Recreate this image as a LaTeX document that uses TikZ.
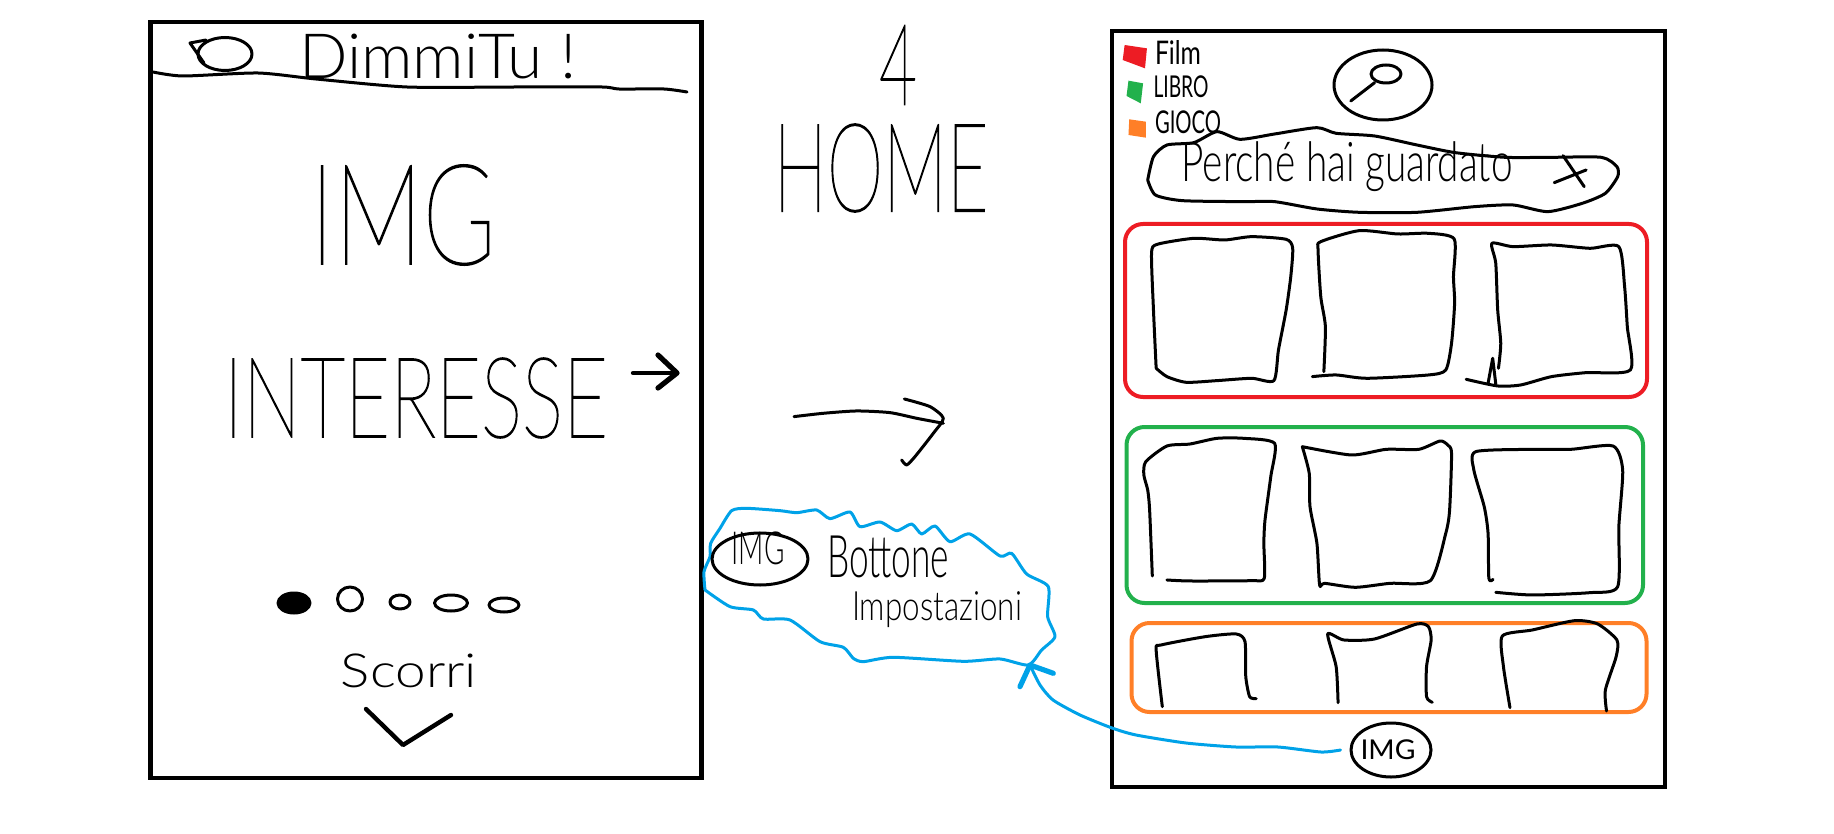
\documentclass[tikz,border=0pt]{standalone}
\usepackage{fontspec}
\setmainfont{Lato}
\newfontfamily\thinfont{Lato Hairline}[FakeBold=1.4]
\newfontfamily\midfont{Lato Light}
\usetikzlibrary{positioning,shapes.geometric}
\definecolor{mred}{HTML}{ED1C24}
\definecolor{mgreen}{HTML}{22B14C}
\definecolor{morange}{HTML}{FF7F27}
\definecolor{mblue}{HTML}{00A2E8}
\newlength{\pxu}
\setlength{\pxu}{.5pt}
% text squeezed into the box it has in the sketch: width, height, text
\newcommand{\hand}[3]{\resizebox*{#1\pxu}{#2\pxu}{#3}}
\tikzset{
  pen/.style={line width=1.5pt,line cap=round,line join=round},
  wire/.style={pen,smooth,tension=.4},
  frame/.style={line width=2.4pt},
  group/.style={line width=2pt,rounded corners=9pt},
  txt/.style={inner sep=0pt,outer sep=0pt},
  blob/.style={pen,draw,ellipse,inner sep=0pt},
  zmid/.style={shift={(680,420)},scale=.3333},
  ztop/.style={shift={(740,20)},scale=.3333},
  zright/.style={shift={(1090,10)},xscale=.3846,yscale=.3333},
  zrightb/.style={shift={(1090,410)},xscale=.3846,yscale=.3333},
}
\begin{document}
\begin{tikzpicture}[x=.5pt,y=-.5pt]
\useasboundingbox (0,0) rectangle (1834,834);

% left screen
\draw[frame] (150.5,22) rectangle (701.5,778);
\draw[wire] plot coordinates {(153,72) (183,76) (258,73) (316,79) (407,87) (515,87) (602,87) (619,89) (664,89) (687,92)};
\node[blob,minimum width=27pt,minimum height=16.5pt] (logo) at (225,54) {};
\draw[pen] (206,40) -- (190,43) -- (204,63);
\node[txt] (title) at (438,57) {\midfont\hand{277}{45}{DimmiTu !}};
\node[txt] (bigimg) at (403,215) {\thinfont\hand{186}{100}{IMG}};
\node[txt] (interest) at (416,398) {\thinfont\hand{384}{80}{INTERESSE}};
\draw[pen,line width=2.2pt] (633,373) -- (677,373);
\draw[pen,line width=2.6pt] (658,355) -- (677,373) -- (658,388);

% page dots
\node[blob,fill=black,minimum width=16pt,minimum height=10pt] (d1) at (294,603) {};
\foreach \n/\x/\y/\w/\h in {d2/350/599/12.5/12,d3/400/602/10/7,d4/451/603/16.5/8,d5/504/605/15/7}
  \node[blob,minimum width=\w pt,minimum height=\h pt] (\n) at (\x,\y) {};
\node[txt] (scroll) at (409,671) {\midfont\hand{136}{34}{Scorri}};
\draw[pen,line width=2.2pt] (366,709) -- (403,745) -- (451,715);

% middle
\node[txt] (num) at (898,65) {\thinfont\hand{38}{79}{4}};
\node[txt] (home) at (881,168) {\thinfont\hand{215}{88}{HOME}};
\begin{scope}[ztop]
\draw[wire] plot coordinates {(162,1190) (250,1180) (350,1173) (450,1178) (530,1195) (610,1210)};
\draw[wire] plot coordinates {(493,1137) (570,1160) (610,1195) (580,1240) (525,1310) (500,1335) (485,1320)};
\end{scope}

% callout
\begin{scope}[zmid]
\draw[wire,mblue] plot coordinates {(75,510) (72,455) (90,410) (92,370) (120,325) (155,272) (200,265) (300,272) (350,278) (410,270) (450,296) (510,276) (540,320) (600,306) (650,332) (695,312) (725,342) (765,318) (810,365) (870,342) (960,408) (995,400) (1040,462) (1105,500) (1103,590) (1125,650) (1085,690) (1045,735) (960,717) (850,724) (640,712) (550,725) (520,715) (490,682) (420,665) (330,600) (250,597) (220,570) (150,560) (75,510)};
\coordinate (tip) at (1050,735);
\draw[pen,mblue,line width=2.6pt] (1020,800) -- (tip) -- (1120,760);
\end{scope}
\node[blob,minimum width=48pt,minimum height=26pt] (btn) at (760,559) {};
\node[txt] (btntxt) at (758,548) {\midfont\hand{53}{33}{IMG}};
\node[txt] (bottone) at (888,557) {\midfont\hand{122}{42}{Bottone}};
\node[txt] (impost) at (937,610) {\midfont\hand{170}{36}{Impostazioni}};

% right screen
\draw[frame] (1112,31) rectangle (1665,787);
\draw[group,mred] (1125,224) rectangle (1647,397);
\draw[group,mgreen] (1126.5,427) rectangle (1643,603);
\draw[group,morange] (1131.5,623) rectangle (1646.5,712);

\begin{scope}[zright]
\fill[mred] (90,105) -- (148,115) -- (143,175) -- (85,150) -- cycle;
\fill[mgreen] (100,212) -- (138,220) -- (132,280) -- (95,258) -- cycle;
\fill[morange] (102,328) -- (145,335) -- (145,383) -- (100,375) -- cycle;
\draw[wire] plot coordinates {(150,510) (165,440) (200,405) (270,398) (330,365) (390,388) (480,372) (590,353) (640,370) (740,378) (850,405) (950,428) (1080,442) (1200,442) (1330,442) (1370,470) (1372,500) (1340,550) (1280,580) (1190,605) (1100,585) (1000,590) (850,607) (700,607) (590,597) (480,575) (400,575) (240,572) (170,555) (150,510)};
\draw[pen] (1207,518) -- (1290,480) (1230,437) -- (1285,530);
\draw[pen] (740,218) -- (678,273);
% red row
\draw[wire] plot coordinates {(172,1075) (165,900) (160,730) (175,703) (270,685) (350,690) (420,680) (510,688) (527,715) (522,800) (510,900) (490,1020) (478,1112) (420,1105) (330,1112) (250,1117) (200,1100) (172,1075)};
\draw[wire] plot coordinates {(608,1085) (612,950) (600,860) (593,720) (600,695) (700,662) (800,672) (880,670) (947,687) (945,800) (948,880) (940,1000) (925,1080) (880,1095) (720,1105) (640,1095) (578,1100)};
\draw[wire] plot coordinates {(1062,1075) (1068,1000) (1060,900) (1055,760) (1045,700) (1100,710) (1200,705) (1300,715) (1375,710) (1390,830) (1397,950) (1405,1080) (1290,1088) (1200,1100) (1120,1125) (1060,1128) (978,1108)};
\draw[pen] (1035,1120) -- (1047,1045) -- (1055,1122);
\end{scope}

\begin{scope}[zrightb]
% green row
\draw[wire] plot coordinates {(162,498) (155,300) (150,240) (140,195) (145,155) (200,108) (260,102) (330,85) (400,85) (480,100) (470,200) (455,330) (452,400) (453,505) (420,512) (260,513) (200,510)};
\draw[wire] plot coordinates {(552,110) (570,190) (572,290) (590,400) (597,525) (610,520) (690,532) (780,520) (885,512) (925,370) (935,300) (940,130) (930,105) (910,93) (855,118) (770,118) (680,135) (552,110)};
\draw[wire] plot coordinates {(1048,508) (1037,505) (1035,370) (1025,290) (998,180) (1003,125) (1150,118) (1250,118) (1360,108) (1385,180) (1375,350) (1372,530) (1300,548) (1150,555) (1055,547)};
% orange row
\draw[wire] plot coordinates {(188,890) (172,720) (185,705) (300,680) (380,672) (403,695) (405,800) (415,860) (432,866)};
\draw[wire] plot coordinates {(645,878) (640,770) (618,672) (660,690) (740,687) (850,642) (880,650) (887,690) (875,770) (875,860) (890,877)};
\draw[wire] plot coordinates {(1092,893) (1075,770) (1072,678) (1150,660) (1260,632) (1320,642) (1370,690) (1368,740) (1340,840) (1343,903)};
\end{scope}

\node[txt] (film) at (1178,53) {\hand{46}{24}{Film}};
\node[txt] (libro) at (1181,87) {\hand{55}{22}{LIBRO}};
\node[txt] (gioco) at (1188,122) {\hand{66}{23}{GIOCO}};
\node[blob,minimum width=49pt,minimum height=35pt] (search) at (1383,85) {};
\node[blob,minimum width=15pt,minimum height=9pt] (lens) at (1386,74) {};
\node[txt] (why) at (1347,167) {\midfont\hand{331}{50}{Perché hai guardato}};
\node[blob,minimum width=40pt,minimum height=27pt] (nav) at (1391,750) {};
\node[txt] (navtxt) at (1388,750) {\hand{55}{20}{IMG}};

% link from the bottom button to the callout
\draw[wire,mblue] plot coordinates {([xshift=-4.5pt]nav.west) (1321,752) (1278,747) (1236,747) (1186,743) (1136,735) (1112,728) (1080,715) (1053,700) (1040,685) (tip)};
\end{tikzpicture}
\end{document}
